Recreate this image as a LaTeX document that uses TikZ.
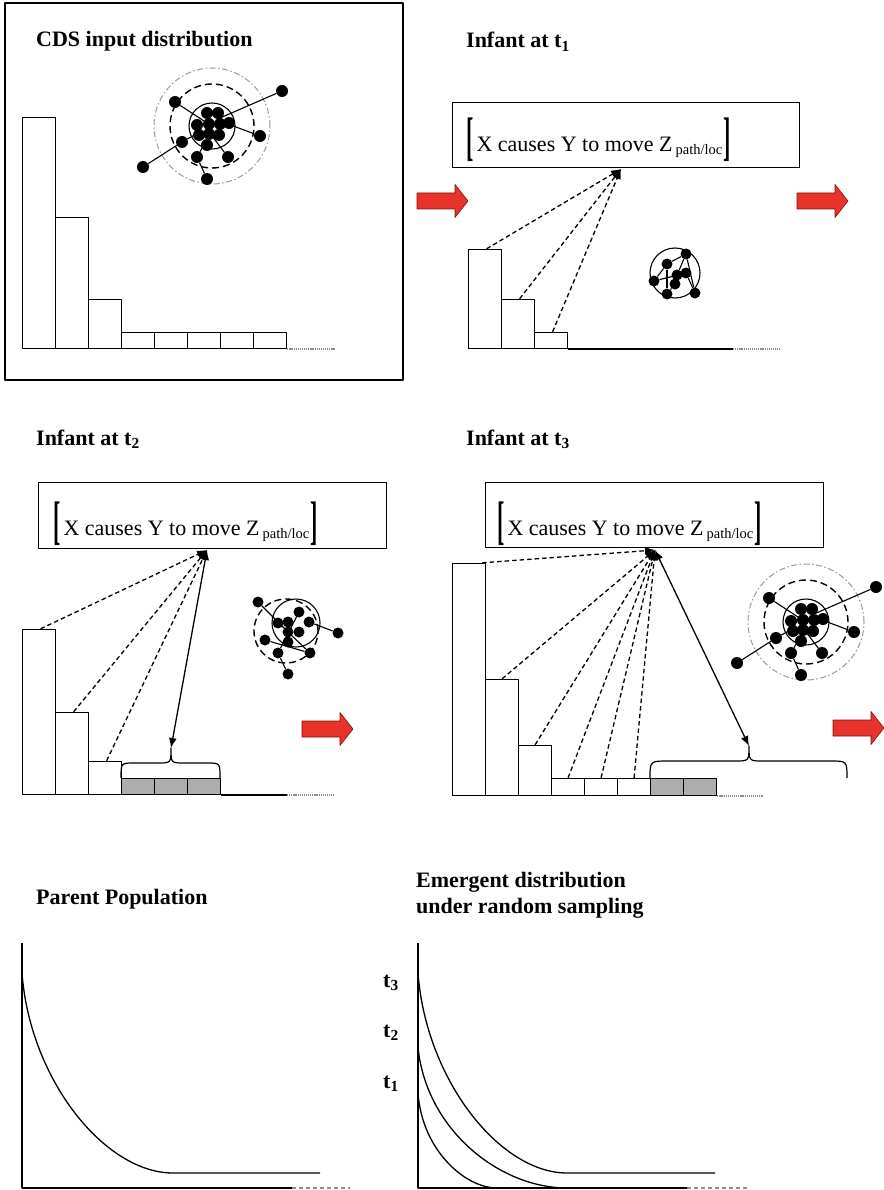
\documentclass[tikz,border=0pt]{standalone}
\usepackage{fontspec}
\usepackage{graphicx}
\setmainfont{Liberation Serif}
\usetikzlibrary{arrows.meta}

\definecolor{arrowred}{HTML}{E8322A}
\definecolor{arrowedge}{HTML}{7A1410}

% tall square brackets around the frame phrase
\newcommand{\tallbracket}[1]{\raisebox{-3pt}{\scalebox{1}[2.4]{\bfseries #1}}}
\newcommand{\causephrase}{\tallbracket{[}\hspace{3pt}X causes Y to move Z\hspace{3pt}\raisebox{-3pt}{\fontsize{14.5}{16}\selectfont path/loc}\hspace{1pt}\tallbracket{]}}

\tikzset{
  heading/.style={font=\fontsize{22}{26}\selectfont\bfseries, inner sep=0pt, anchor=base west},
  phrase/.style={font=\fontsize{22}{26}\selectfont, inner sep=0pt, anchor=base west},
  framebox/.style={draw, line width=1.3pt, inner sep=0pt, anchor=north west},
  bar/.style={draw, line width=1.2pt, fill=white, minimum width=33pt, inner sep=0pt, anchor=south west},
  graybar/.style={bar, fill=black!32},
  axisline/.style={line width=1.2pt},
  tailline/.style={line width=1.2pt, black!45, dash pattern=on 1.2pt off 0.9pt},
  curvetail/.style={line width=1.2pt, black!45, dash pattern=on 4pt off 3pt},
  curve/.style={line width=1.3pt},
  feed/.style={line width=1.3pt, dash pattern=on 4.5pt off 3pt, -{Latex[length=10pt,width=8pt]}},
  link/.style={line width=1.3pt, {Latex[length=10pt,width=8pt]}-{Latex[length=10pt,width=8pt]}},
  brace/.style={line width=1.2pt},
  dot/.style={circle, fill=black, minimum size=12pt, inner sep=0pt},
  sdot/.style={circle, fill=black, minimum size=11pt, inner sep=0pt},
  web/.style={line width=1.1pt},
  ring/.style={line width=1.1pt},
  dashring/.style={line width=1.4pt, dash pattern=on 7pt off 4pt},
  outerring/.style={line width=1pt, black!40, dash pattern=on 6pt off 2.5pt on 1.5pt off 2.5pt},
  pics/bigcluster/.style={code={
    \draw[outerring] (0,0) circle[radius=58pt];
    \draw[dashring] (0,0) circle[radius=42pt];
    \draw[ring] (0,0) circle[radius=23pt];
    \node[dot] (-u1) at (70,-35) {};
    \node[dot] (-u2) at (-37,-24) {};
    \node[dot] (-r) at (48,10) {};
    \node[dot] (-l1) at (-30,16) {};
    \node[dot] (-l2) at (-69,41) {};
    \node[dot] (-b1) at (-15,31) {};
    \node[dot] (-b2) at (16,31) {};
    \node[dot] (-b3) at (-5,53) {};
    \coordinate (-c1) at (8,-8);
    \coordinate (-c2) at (-8,-5);
    \coordinate (-c3) at (16,-2);
    \coordinate (-c4) at (-12,6);
    \coordinate (-c5) at (-2,8);
    \coordinate (-c6) at (0,10);
    \draw[web] (-u1) -- (-c1);
    \draw[web] (-u2) -- (-c2);
    \draw[web] (-r) -- (-c3);
    \draw[web] (-l2) -- (-l1) -- (-c4);
    \draw[web] (-b3) -- (-b1) -- (-c5);
    \draw[web] (-b2) -- (-c6);
    \foreach \p in {(-5,-13),(6,-13),(-15,-1),(-3,-2),(8,-2),(17,-3),(-13,9),(-3,8),(7,9),(-5,19)}
      \fill \p circle[radius=6pt];
  }},
  pics/redarrow/.style={code={
    \draw[draw=arrowedge, fill=arrowred, line width=0.6pt]
      (0,-8) -- (38,-8) -- (38,-16.5) -- (51,0) -- (38,16.5) -- (38,8) -- (0,8) -- cycle;
  }}
}

\begin{document}
\begin{tikzpicture}[x=1pt,y=-1pt,line join=round]
\fill[white] (0,0) rectangle (883,1190);
\useasboundingbox (0,0) rectangle (883,1190);

% ---------- CDS input distribution ----------
\draw[line width=1.3pt] (5,3) rectangle (403,380);
\node[heading] (h0) at (36,47) {CDS input distribution};
\foreach \i/\x/\h in {1/22/231pt,2/55/131pt,3/88/49pt,4/121/16pt,5/154/16pt,6/187/16pt,7/220/16pt,8/253/16pt}
  \node[bar, minimum height=\h] (a\i) at (\x,349) {};
\coordinate (aend) at (335,349);
\draw[tailline] (a8.south east) -- (aend);
\pic (cl0) at (212,126) {bigcluster};

% ---------- Infant at t1 ----------
\node[heading] (h1) at (466,48) {Infant at t\textsubscript{1}};
\node[framebox, minimum width=347pt, minimum height=65pt] (box1) at (452,102) {};
\node[phrase] (txt1) at (466,152) {\causephrase};
\coordinate (f1) at (621,169);
\foreach \i/\x/\h in {1/468/99pt,2/501/49pt,3/534/16pt}
  \node[bar, minimum height=\h] (b\i) at (\x,349) {};
\coordinate (bline) at (733,349);
\coordinate (bend) at (780,349);
\draw[axisline] (b3.south east) -- (bline);
\draw[tailline] (bline) -- (bend);
\foreach \i in {1,2,3}
  \draw[feed] ([xshift=1.5pt]b\i.north) -- (f1);
\pic at (417,201) {redarrow};
\pic at (797,201) {redarrow};

% small network at t1
\draw[ring] (675,273) circle[radius=25pt];
\node[sdot] (ka) at (686,254) {};
\node[sdot] (kb) at (667,264) {};
\node[sdot] (kc) at (654,281) {};
\node[sdot] (kd) at (677,275) {};
\node[sdot] (ke) at (686,273) {};
\node[sdot] (kf) at (675,284) {};
\node[sdot] (kg) at (667,294) {};
\node[sdot] (kh) at (695,293) {};
\draw[web] (ka) -- (kb) -- (kc);
\draw[web] (ka) -- (kd);
\draw[web] (kb) -- (kg);
\draw[web] (kc) -- (ke);
\draw[web] (ke) -- (kh);
\draw[web] (kf) -- (kg);
\draw[web] (ka) -- (kh);

% ---------- Infant at t2 ----------
\node[heading] (h2) at (36,445) {Infant at t\textsubscript{2}};
\node[framebox, minimum width=348pt, minimum height=66pt] (box2) at (38,482) {};
\node[phrase] (txt2) at (53,535) {\causephrase};
\coordinate (f2) at (207,550);
\foreach \i/\x/\h in {1/22/165pt,2/55/82pt,3/88/33pt}
  \node[bar, minimum height=\h] (c\i) at (\x,795) {};
\foreach \i/\x in {4/121,5/154,6/187}
  \node[graybar, minimum height=16pt] (c\i) at (\x,795) {};
\coordinate (cline) at (287,795);
\coordinate (cend) at (335,795);
\draw[axisline] (c6.south east) -- (cline);
\draw[tailline] (cline) -- (cend);
\foreach \i in {1,2,3}
  \draw[feed] ([xshift=1.5pt]c\i.north) -- (f2);
\coordinate (br2) at (171,748);
\draw[brace] (121,778) .. controls (121,763) .. (134,763) -- (158,763)
  .. controls (171,763) .. (br2) .. controls (171,763) .. (184,763) -- (207,763)
  .. controls (220,763) .. (220,778);
\draw[link] (f2) -- (br2);
\pic at (302,729) {redarrow};

% small network at t2
\draw[ring] (296,623) circle[radius=24pt];
\draw[dashring] (286,631) circle[radius=32pt];
\node[sdot] (np) at (258,602) {};
\node[sdot] (nq) at (338,633) {};
\node[sdot] (nr) at (265,640) {};
\node[sdot] (ns) at (278,653) {};
\node[sdot] (nu) at (310,653) {};
\node[sdot] (nv) at (288,674) {};
\foreach \p in {(278,623),(288,622),(299,612),(309,622),(288,632),(299,632),(288,642)}
  \fill \p circle[radius=5.5pt];
\coordinate (n1) at (288,632);
\coordinate (n2) at (309,622);
\coordinate (n3) at (299,612);
\draw[web] (np) -- (n1);
\draw[web] (nq) -- (n2);
\draw[web] (nv) -- (ns) -- (n3);
\draw[web] (nr) -- (nu);
\draw[web] (nu) -- (n1);

% ---------- Infant at t3 ----------
\node[heading] (h3) at (466,445) {Infant at t\textsubscript{3}};
\node[framebox, minimum width=338pt, minimum height=65pt] (box3) at (485,482) {};
\node[phrase] (txt3) at (497,535) {\causephrase};
\coordinate (f3) at (655,550);
\foreach \i/\x/\h in {1/452/232pt,2/485/116pt,3/518/50pt,4/551/17pt,5/584/17pt,6/617/17pt}
  \node[bar, minimum height=\h] (d\i) at (\x,796) {};
\foreach \i/\x in {7/650,8/683}
  \node[graybar, minimum height=17pt] (d\i) at (\x,796) {};
\coordinate (dend) at (763,796);
\draw[tailline] (d8.south east) -- (dend);
\draw[feed] ([xshift=-4pt]d1.north east) -- (f3);
\foreach \i in {2,3,4,5,6}
  \draw[feed] (d\i.north) -- (f3);
\coordinate (br3) at (749,746);
\draw[brace] (650,778) .. controls (650,761) .. (668,761) -- (735,761)
  .. controls (749,761) .. (br3) .. controls (749,761) .. (763,761) -- (830,761)
  .. controls (847,761) .. (847,778);
\draw[link] (f3) -- (br3);
\pic (cl3) at (806,622) {bigcluster};
\pic at (833,728) {redarrow};

% ---------- Parent Population ----------
\node[heading] (h4) at (36,904) {Parent Population};
\coordinate (po) at (22,1188);
\coordinate (ptop) at (22,943);
\coordinate (pline) at (292,1188);
\coordinate (pend) at (350,1188);
\draw[axisline] (ptop) -- (po) -- (pline);
\draw[curvetail] (pline) -- (pend);
\draw[curve] (22,973) .. controls (30,1080) and (105,1173) .. (173,1173) -- (320,1173);

% ---------- Emergent distribution ----------
\node[heading] (h5) at (416,887) {Emergent distribution};
\node[heading] (h6) at (416,913) {under random sampling};
\coordinate (qo) at (418,1188);
\coordinate (qtop) at (418,943);
\coordinate (qline) at (687,1188);
\coordinate (qend) at (747,1188);
\draw[axisline] (qtop) -- (qo) -- (qline);
\draw[curvetail] (qline) -- (qend);
\draw[curve] (418,973) .. controls (426,1080) and (500,1173) .. (567,1173) -- (715,1173);
\draw[curve] (418,1047) .. controls (426,1130) and (500,1188) .. (567,1188);
\draw[curve] (418,1093) .. controls (422,1150) and (465,1188) .. (497,1188);
\node[heading] (l3) at (383,987) {t\textsubscript{3}};
\node[heading] (l2) at (383,1037) {t\textsubscript{2}};
\node[heading] (l1) at (383,1088) {t\textsubscript{1}};
\end{tikzpicture}
\end{document}
